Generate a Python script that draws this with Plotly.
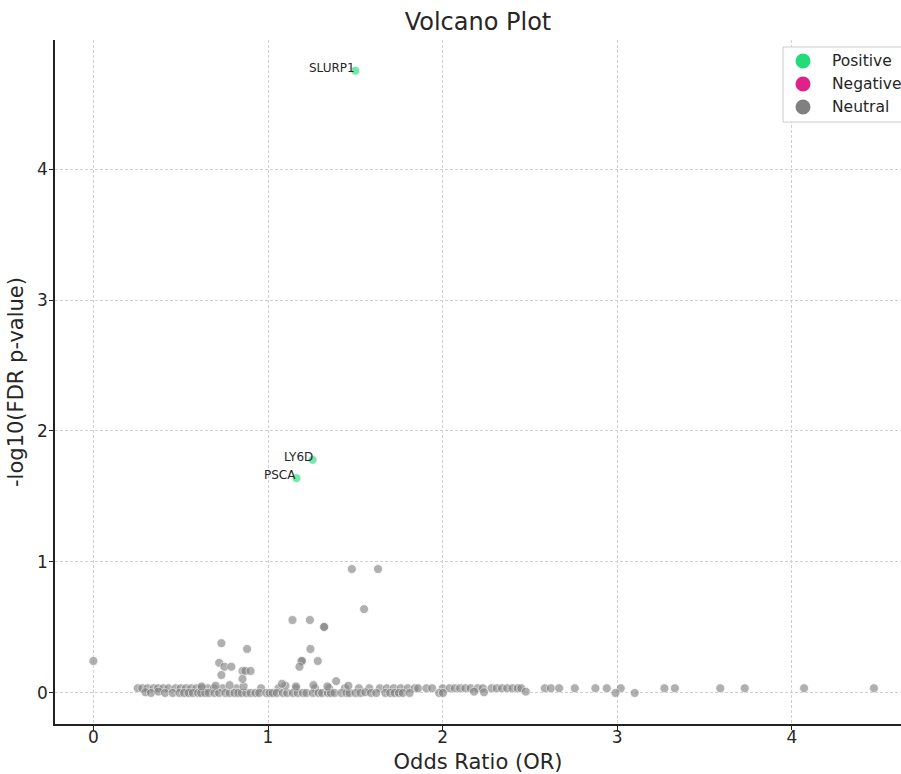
import plotly.graph_objects as go

# ---------------- data ----------------
pos_genes = ["SLURP1", "LY6D", "PSCA"]
pos_or = [1.50, 1.255, 1.163]
pos_fdr = [4.75, 1.78, 1.64]

neg_or = []
neg_fdr = []

# neutral genes away from the baseline
neu_or_mid = [0.00, 0.733, 0.88, 0.72, 0.75, 0.79, 0.733, 0.854, 0.87, 0.90, 0.854,
              1.14, 1.24, 1.32, 1.322, 1.48, 1.63, 1.55, 1.243, 1.19, 1.195, 1.18,
              1.285, 1.39, 1.08]
neu_fdr_mid = [0.244, 0.38, 0.336, 0.23, 0.20, 0.20, 0.137, 0.168, 0.168, 0.168, 0.107,
               0.557, 0.557, 0.504, 0.504, 0.946, 0.946, 0.64, 0.336, 0.244, 0.244, 0.20,
               0.244, 0.09, 0.07]

# neutral genes on the baseline (-log10 FDR ~ 0)
neu_or_low = [0.298, 0.33, 0.372, 0.41, 0.454, 0.493, 0.52, 0.545, 0.569, 0.60, 0.617,
              0.64, 0.66, 0.693, 0.72, 0.756, 0.78, 0.808, 0.83, 0.85, 0.875, 0.90,
              0.928, 0.95, 0.99, 1.01, 1.027, 1.05, 1.085, 1.11, 1.142, 1.17, 1.20,
              1.22, 1.257, 1.29, 1.31, 1.343, 1.36, 1.381, 1.42, 1.45, 1.467, 1.501,
              1.53, 1.557, 1.59, 1.62, 1.672, 1.70, 1.725, 1.75, 1.772, 1.811, 1.98,
              2.002, 2.18, 2.237, 2.476, 2.99, 3.10]
neu_fdr_low = [0.005, 0.0, 0.01, 0.0, 0.0, 0.0, 0.0, 0.0, 0.0, 0.0, 0.0,
               0.0, 0.0, 0.0, 0.0, 0.0, 0.0, 0.0, 0.0, 0.0, 0.0, 0.0,
               0.0, 0.0, 0.0, 0.0, 0.0, 0.0, 0.0, 0.0, 0.0, 0.0, 0.0,
               0.0, 0.0, 0.0, 0.0, 0.0, 0.0, 0.0, 0.0, 0.0, 0.0, 0.0,
               0.0, 0.005, 0.0, 0.0, 0.0, 0.0, 0.0, 0.0, 0.0, 0.0, 0.0,
               0.0, 0.01, 0.005, 0.01, 0.0, 0.0]

neu_or_base = [0.254, 0.28, 0.31, 0.345, 0.37, 0.40, 0.43, 0.47, 0.50, 0.53, 0.56,
               0.59, 0.62, 0.655, 0.69, 0.74, 0.82, 0.96, 1.06, 1.16, 1.27, 1.35,
               1.44, 1.52, 1.58, 1.64, 1.68, 1.72, 1.76, 1.80, 1.84, 1.86, 1.907,
               1.94, 2.00, 2.04, 2.07, 2.10, 2.13, 2.16, 2.20, 2.23, 2.28, 2.31,
               2.34, 2.37, 2.40, 2.43, 2.45, 2.585, 2.62, 2.667, 2.757, 2.875, 2.94,
               3.02, 3.27, 3.33, 3.59, 3.73, 4.07, 4.47]
neu_fdr_base = [0.036] * 62

neu_or_faint = [0.62, 0.70, 0.78, 0.86, 1.10, 1.16, 1.26, 1.34, 1.46]
neu_fdr_faint = [0.05, 0.055, 0.06, 0.05, 0.055, 0.05, 0.06, 0.05, 0.055]

neu_or = neu_or_base + neu_or_low + neu_or_faint + neu_or_mid
neu_fdr = neu_fdr_base + neu_fdr_low + neu_fdr_faint + neu_fdr_mid

x_ticks = [0, 1, 2, 3, 4]
y_ticks = [0, 1, 2, 3, 4]

legend_names = ["Positive", "Negative", "Neutral"]

GREEN = "#22dd77"
MAGENTA = "#e0218a"
GREY = "#808080"
legend_colors = [GREEN, MAGENTA, GREY]
FONT = "DejaVu Sans"
TXT = "#262626"

fig = go.Figure()

for xs, ys, col in [(neu_or, neu_fdr, GREY), (neg_or, neg_fdr, MAGENTA), (pos_or, pos_fdr, GREEN)]:
    fig.add_trace(go.Scatter(
        x=xs, y=ys, mode="markers", showlegend=False,
        marker=dict(size=9, color=col, opacity=0.62, line=dict(color="white", width=0.8)),
    ))

for g, xo, yo in zip(pos_genes, pos_or, pos_fdr):
    fig.add_annotation(
        x=xo, y=yo, text=g, showarrow=False, xanchor="right", yanchor="bottom",
        yshift=-6, xshift=2, font=dict(family=FONT, size=12, color=TXT),
    )

# ---- manual legend (drawn in paper coordinates) ----
ML, MT, MB = 55, 40, 50
W, H = 901, 774
PLOT_W, PLOT_H = float(W - ML), float(H - MT - MB)
def px_x(p):  # page x -> paper x
    return (p - ML) / PLOT_W
def px_y(p):  # page y -> paper y
    return (H - MB - p) / PLOT_H

fig.add_shape(type="rect", xref="paper", yref="paper",
              x0=px_x(783), x1=px_x(915), y0=px_y(122), y1=px_y(47),
              line=dict(color="#cccccc", width=1), fillcolor="white", layer="above")
for i, (nm, col) in enumerate(zip(legend_names, legend_colors)):
    cy = px_y(61 + 23 * i)
    fig.add_shape(type="circle", xref="paper", yref="paper",
                  xsizemode="pixel", ysizemode="pixel",
                  xanchor=px_x(803), yanchor=cy, x0=-7.5, x1=7.5, y0=-7.5, y1=7.5,
                  line=dict(width=0), fillcolor=col, layer="above")
    fig.add_annotation(xref="paper", yref="paper", x=px_x(830), y=cy, text=nm,
                       showarrow=False, xanchor="left", yanchor="middle",
                       font=dict(family=FONT, size=15.5, color=TXT))

fig.update_layout(
    width=W, height=H,
    margin=dict(l=ML, r=0, t=MT, b=MB),
    paper_bgcolor="white", plot_bgcolor="white",
    font=dict(family=FONT, color=TXT),
    showlegend=False,
    title=dict(text="Volcano Plot", x=0.5, xanchor="center", xref="paper",
               y=1 - 22 / H, yanchor="middle",
               font=dict(family=FONT, size=24, color=TXT)),
    xaxis=dict(
        range=[-0.22, 4.625], tickvals=x_ticks, ticktext=[str(v) for v in x_ticks],
        showgrid=True, gridcolor="#d0d0d0", griddash="3px,2px", gridwidth=0.8,
        zeroline=False, showline=True, linecolor="#222222", linewidth=1.5,
        ticks="outside", ticklen=4, tickcolor="#222222",
        ticklabelstandoff=-7,
        tickfont=dict(family=FONT, size=17, color=TXT),
        title=dict(text="Odds Ratio (OR)", standoff=11,
                   font=dict(family=FONT, size=21, color=TXT)),
        automargin=False,
    ),
    yaxis=dict(
        range=[-0.237, 4.985], tickvals=y_ticks, ticktext=[str(v) for v in y_ticks],
        showgrid=True, gridcolor="#d0d0d0", griddash="3px,2px", gridwidth=0.8,
        zeroline=False, showline=True, linecolor="#222222", linewidth=1.5,
        ticks="outside", ticklen=4, tickcolor="#222222",
        ticklabelstandoff=-2,
        tickfont=dict(family=FONT, size=17, color=TXT),
        title=dict(text="-log10(FDR p-value)", standoff=8,
                   font=dict(family=FONT, size=21, color=TXT)),
        automargin=False,
    ),
)

fig.write_html(
    "out.html",
    config={"displayModeBar": False},
    post_script="document.body.style.margin='0';document.body.style.overflow='hidden';",
)
